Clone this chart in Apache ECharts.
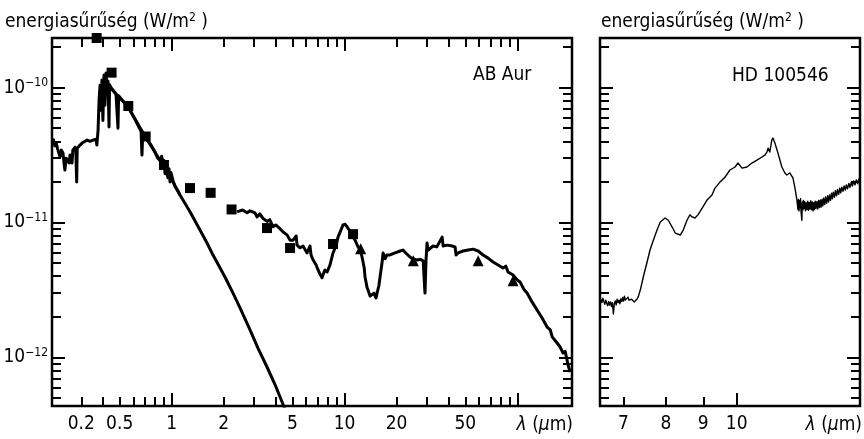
<!DOCTYPE html>
<html>
<head>
<meta charset="utf-8">
<script src="https://cdn.jsdelivr.net/npm/echarts@6/dist/echarts.min.js"></script>
<style>
  html, body { margin: 0; padding: 0; background: #fff; }
  #chart { width: 864px; height: 439px; }
</style>
</head>
<body>
<div id="chart"></div>
<script>
// ---- AB Aur: spectral energy distribution (wavelength in µm, flux in W/m²) ----
const abAurUvOptical = [
  [0.203, 3.95e-11], [0.207, 4.10e-11], [0.211, 3.70e-11], [0.215, 3.85e-11], [0.219, 3.50e-11],
  [0.226, 3.06e-11], [0.230, 3.44e-11], [0.235, 3.27e-11], [0.238, 2.80e-11], [0.241, 2.45e-11],
  [0.245, 3.00e-11], [0.251, 3.06e-11], [0.255, 2.76e-11], [0.258, 3.16e-11], [0.265, 2.76e-11],
  [0.268, 3.44e-11], [0.276, 3.62e-11], [0.279, 3.35e-11], [0.282, 2.00e-11], [0.284, 3.55e-11],
  [0.295, 3.75e-11], [0.303, 3.88e-11], [0.311, 3.95e-11], [0.324, 4.08e-11], [0.337, 4.00e-11],
  [0.350, 4.08e-11], [0.364, 4.15e-11], [0.369, 3.75e-11], [0.375, 4.84e-11], [0.380, 8.1e-11],
  [0.385, 1.04e-10], [0.390, 6.8e-11], [0.395, 1.14e-10], [0.400, 5.7e-11], [0.406, 1.24e-10],
  [0.411, 7.4e-11], [0.417, 1.28e-10], [0.422, 9.6e-11], [0.428, 1.12e-10], [0.434, 5.1e-11],
  [0.437, 1.05e-10], [0.445, 1.00e-10], [0.460, 9.5e-11], [0.476, 9.0e-11], [0.486, 8.8e-11],
  [0.489, 5.0e-11], [0.493, 8.7e-11], [0.516, 8.1e-11], [0.535, 7.7e-11], [0.558, 7.2e-11],
  [0.585, 6.5e-11], [0.613, 5.85e-11], [0.640, 5.2e-11], [0.665, 4.75e-11], [0.673, 3.16e-11],
  [0.680, 4.6e-11], [0.700, 4.37e-11], [0.750, 3.85e-11], [0.800, 3.33e-11], [0.830, 3.0e-11],
  [0.855, 2.9e-11], [0.875, 3.1e-11], [0.890, 2.55e-11], [0.900, 2.9e-11], [0.915, 2.3e-11],
  [0.930, 2.7e-11], [0.950, 2.15e-11], [0.965, 2.5e-11], [0.978, 2.0e-11], [0.990, 2.35e-11],
  [1.017, 2.05e-11], [1.045, 1.85e-11], [1.070, 1.9e-11], [1.090, 1.7e-11], [1.117, 1.6e-11]
];

const abAurPhotosphere = [
  [0.406, 1.22e-10], [0.422, 1.10e-10], [0.445, 9.9e-11], [0.476, 8.95e-11], [0.516, 8.08e-11],
  [0.558, 7.2e-11], [0.613, 5.85e-11], [0.700, 4.37e-11], [0.800, 3.33e-11], [0.915, 2.49e-11],
  [1.017, 2.0e-11], [1.117, 1.60e-11], [1.276, 1.20e-11], [1.458, 8.8e-12], [1.601, 7.05e-12],
  [1.734, 5.74e-12], [2.034, 3.95e-12], [2.263, 3.0e-12], [2.485, 2.33e-12], [2.839, 1.60e-12],
  [3.16, 1.17e-12], [3.561, 8.5e-13], [3.96, 6.3e-13], [4.45, 4.35e-13], [4.84, 3.5e-13]
];

const abAurInfrared = [
  [2.39, 1.20e-11], [2.57, 1.24e-11], [2.73, 1.18e-11], [2.84, 1.22e-11], [3.03, 1.18e-11],
  [3.12, 1.10e-11], [3.24, 1.16e-11], [3.38, 1.07e-11], [3.56, 1.02e-11], [3.69, 1.05e-11],
  [3.86, 9.3e-12], [4.00, 9.6e-12], [4.23, 9.0e-12], [4.41, 8.5e-12], [4.65, 8.1e-12],
  [4.84, 7.4e-12], [5.04, 7.4e-12], [5.25, 7.95e-12], [5.31, 6.8e-12], [5.53, 6.5e-12],
  [5.75, 6.7e-12], [6.07, 5.95e-12], [6.31, 6.7e-12], [6.40, 5.75e-12], [6.57, 5.3e-12],
  [6.85, 4.85e-12], [7.03, 4.45e-12], [7.21, 4.15e-12], [7.41, 3.9e-12], [7.61, 4.3e-12],
  [7.71, 4.45e-12], [7.93, 4.3e-12], [8.24, 4.85e-12], [8.58, 5.95e-12], [8.95, 6.8e-12],
  [9.17, 7.8e-12], [9.60, 9.0e-12], [9.80, 9.6e-12], [10.08, 9.7e-12], [10.34, 9.3e-12],
  [10.77, 8.6e-12], [11.05, 8.4e-12], [11.5, 7.4e-12], [11.97, 6.6e-12], [12.3, 6.35e-12],
  [12.63, 5.55e-12], [13.0, 4.6e-12], [13.14, 3.95e-12], [13.5, 3.3e-12], [13.68, 3.16e-12],
  [14.05, 2.85e-12], [14.42, 2.76e-12], [14.8, 3.0e-12], [15.2, 2.76e-12], [15.42, 3.0e-12],
  [15.8, 3.4e-12], [16.05, 3.95e-12], [16.5, 5.1e-12], [16.71, 5.95e-12], [17.2, 5.4e-12],
  [17.6, 5.75e-12], [18.34, 5.75e-12], [19.6, 5.95e-12], [21.0, 6.15e-12], [21.8, 6.25e-12],
  [22.6, 5.95e-12], [23.9, 5.55e-12], [25.0, 5.35e-12], [26.3, 5.27e-12], [27.4, 5.35e-12],
  [28.5, 5.2e-12], [29.2, 3.0e-12], [29.6, 5.2e-12], [30.0, 7.05e-12], [30.5, 6.25e-12],
  [32.5, 6.7e-12], [34.2, 6.6e-12], [36.7, 7.8e-12], [37.2, 6.7e-12], [39.2, 6.8e-12],
  [41.9, 6.7e-12], [43.6, 6.6e-12], [44.2, 5.75e-12], [45.4, 5.95e-12], [48.5, 6.15e-12],
  [51.9, 6.25e-12], [55.4, 6.35e-12], [59.3, 6.15e-12], [63.3, 5.75e-12], [67.7, 5.45e-12],
  [72.3, 5.1e-12], [77.3, 4.85e-12], [82.6, 4.6e-12], [85.8, 4.75e-12], [88.3, 4.3e-12],
  [94.4, 4.08e-12], [99.8, 3.75e-12], [103.7, 3.62e-12], [109, 3.2e-12], [113.8, 3.0e-12],
  [121.8, 2.57e-12], [130, 2.25e-12], [139, 1.96e-12], [148.6, 1.68e-12], [155, 1.60e-12],
  [159, 1.42e-12], [169.7, 1.28e-12], [176.5, 1.2e-12], [183.8, 1.08e-12], [189, 1.11e-12],
  [196.5, 8.8e-13], [201.8, 7.8e-13]
];

const abAurPhotometrySquares = [
  [0.368, 2.33e-10], [0.449, 1.29e-10], [0.561, 7.3e-11], [0.707, 4.34e-11], [0.902, 2.67e-11],
  [1.276, 1.80e-11], [1.68, 1.66e-11], [2.22, 1.25e-11], [3.56, 9.1e-12], [4.84, 6.47e-12],
  [8.58, 6.93e-12], [11.2, 8.2e-12]
];

const abAurPhotometryTriangles = [
  [12.4, 6.4e-12], [25.0, 5.2e-12], [59.3, 5.2e-12], [94.4, 3.7e-12]
];

// ---- HD 100546: mid-infrared spectrum ----
const hd100546Spectrum = [
  [6.52, 2.70e-12], [6.54, 2.55e-12], [6.56, 2.75e-12], [6.58, 2.60e-12], [6.60, 2.48e-12],
  [6.62, 2.66e-12], [6.64, 2.52e-12], [6.66, 2.42e-12], [6.68, 2.60e-12], [6.70, 2.45e-12],
  [6.72, 2.58e-12], [6.74, 2.38e-12], [6.76, 2.55e-12], [6.78, 2.10e-12], [6.80, 2.50e-12],
  [6.82, 2.62e-12], [6.84, 2.45e-12], [6.86, 2.70e-12], [6.88, 2.55e-12], [6.90, 2.66e-12],
  [6.92, 2.50e-12], [6.94, 2.72e-12], [6.96, 2.60e-12], [6.98, 2.78e-12], [7.00, 2.62e-12],
  [7.02, 2.85e-12], [7.04, 2.66e-12], [7.06, 2.75e-12], [7.08, 2.62e-12], [7.10, 2.80e-12],
  [7.12, 2.66e-12], [7.14, 2.74e-12], [7.16, 2.60e-12], [7.18, 2.70e-12], [7.20, 2.64e-12],
  [7.22, 2.72e-12], [7.24, 2.58e-12], [7.26, 2.66e-12], [7.30, 2.70e-12], [7.33, 2.80e-12],
  [7.38, 3.16e-12], [7.45, 3.95e-12], [7.54, 5.1e-12], [7.61, 6.26e-12], [7.69, 7.4e-12],
  [7.78, 8.8e-12], [7.86, 1.01e-11], [7.98, 1.08e-11], [8.06, 1.04e-11], [8.16, 9.26e-12],
  [8.24, 8.36e-12], [8.37, 8.08e-12], [8.45, 8.8e-12], [8.55, 1.04e-11], [8.63, 1.14e-11],
  [8.69, 1.10e-11], [8.77, 1.08e-11], [8.85, 1.14e-11], [8.97, 1.28e-11], [9.11, 1.47e-11],
  [9.25, 1.60e-11], [9.34, 1.80e-11], [9.49, 2.0e-11], [9.64, 2.17e-11], [9.79, 2.45e-11],
  [9.95, 2.58e-11], [10.04, 2.76e-11], [10.17, 2.53e-11], [10.33, 2.58e-11], [10.49, 2.76e-11],
  [10.66, 2.90e-11], [10.83, 3.06e-11], [10.93, 3.16e-11], [11.00, 3.33e-11], [11.04, 3.56e-11],
  [11.10, 3.33e-11], [11.17, 4.08e-11], [11.21, 4.23e-11], [11.28, 3.88e-11], [11.39, 3.27e-11],
  [11.53, 2.58e-11], [11.64, 2.33e-11], [11.71, 2.25e-11], [11.82, 2.33e-11], [11.94, 2.14e-11],
  [12.01, 1.83e-11], [12.09, 1.47e-11],
  [12.11, 1.52e-11], [12.13, 1.25e-11], [12.15, 1.48e-11], [12.17, 1.22e-11], [12.19, 1.45e-11],
  [12.21, 1.28e-11], [12.23, 1.50e-11], [12.25, 1.20e-11], [12.28, 1.04e-11], [12.30, 1.42e-11],
  [12.32, 1.24e-11], [12.34, 1.46e-11], [12.36, 1.27e-11], [12.39, 1.43e-11], [12.42, 1.22e-11],
  [12.45, 1.40e-11], [12.48, 1.25e-11], [12.51, 1.44e-11], [12.54, 1.23e-11], [12.57, 1.41e-11],
  [12.60, 1.26e-11], [12.63, 1.45e-11], [12.66, 1.24e-11], [12.69, 1.42e-11], [12.72, 1.22e-11],
  [12.75, 1.40e-11], [12.78, 1.25e-11], [12.81, 1.44e-11], [12.84, 1.27e-11], [12.88, 1.43e-11],
  [12.91, 1.26e-11], [12.95, 1.46e-11], [12.98, 1.29e-11], [13.02, 1.47e-11], [13.05, 1.30e-11],
  [13.09, 1.49e-11], [13.12, 1.33e-11], [13.16, 1.52e-11], [13.20, 1.36e-11], [13.24, 1.55e-11],
  [13.28, 1.39e-11], [13.32, 1.58e-11], [13.36, 1.42e-11], [13.40, 1.60e-11], [13.44, 1.46e-11],
  [13.48, 1.65e-11], [13.52, 1.50e-11], [13.56, 1.68e-11], [13.61, 1.54e-11], [13.65, 1.72e-11],
  [13.70, 1.58e-11], [13.74, 1.76e-11], [13.79, 1.62e-11], [13.84, 1.80e-11], [13.88, 1.66e-11],
  [13.93, 1.83e-11], [13.98, 1.70e-11], [14.03, 1.87e-11], [14.08, 1.74e-11], [14.13, 1.90e-11],
  [14.18, 1.78e-11], [14.24, 1.95e-11], [14.29, 1.82e-11], [14.35, 1.99e-11], [14.40, 1.86e-11],
  [14.46, 2.03e-11], [14.52, 1.90e-11], [14.58, 2.07e-11], [14.64, 1.94e-11], [14.70, 2.10e-11],
  [14.75, 1.98e-11]
];

// ---- axis ranges ----
const leftLambdaRange = [0.203, 207];
const rightLambdaRange = [6.5, 14.75];
const fluxRange = [4.37e-13, 2.33e-10];

// ---- tick positions and tick labels ----
const leftMajorLambdaTicks = [1, 10, 100];
const leftMinorLambdaTicks = [0.3, 0.4, 0.5, 0.6, 0.7, 0.8, 0.9, 2, 3, 4, 5, 6, 7, 8, 9,
                              20, 30, 40, 50, 60, 70, 80, 90];
const leftLambdaLabelAt = [0.3, 0.5, 1, 2, 5, 10, 20, 50];
const leftLambdaLabelText = ['0.2', '0.5', '1', '2', '5', '10', '20', '50'];

const rightMajorLambdaTicks = [10];
const rightMinorLambdaTicks = [7, 8, 9];
const rightLambdaLabelAt = [7, 8, 9, 10];
const rightLambdaLabelText = ['7', '8', '9', '10'];

const fluxMajorTicks = [1e-12, 1e-11, 1e-10];
const fluxMinorTicks = [5e-13, 6e-13, 7e-13, 8e-13, 9e-13,
                        2e-12, 3e-12, 4e-12, 5e-12, 6e-12, 7e-12, 8e-12, 9e-12,
                        2e-11, 3e-11, 4e-11, 5e-11, 6e-11, 7e-11, 8e-11, 9e-11, 2e-10];
const fluxLabelAt = [1e-12, 1e-11, 1e-10];
const fluxLabelExponent = ['−12', '−11', '−10'];

// ---- texts ----
const yTitle = 'energiasűrűség (W/m{s|2} )';
const leftStarName = 'AB Aur';
const rightStarName = 'HD 100546';
const xTitle = '{i|λ} ({i|µ}m)';

// ---- styling ----
const FONT = '"DejaVu Sans Condensed", "DejaVu Sans", sans-serif';
const INK = '#000';
const MINOR_LEN = 9;
const MAJOR_LEN = 13;

const log10 = Math.log10;

function lookupLabel(value, at, text) {
  for (let i = 0; i < at.length; i++) {
    if (Math.abs(log10(at[i]) - value) < 1e-6) return text[i];
  }
  return '';
}

// Invisible logarithmic axes that carry the data.
function dataAxis(gridIndex, range) {
  return { type: 'log', logBase: 10, gridIndex: gridIndex, min: range[0], max: range[1], show: false };
}

// Tick-only axes drawn in log10 space so ticks can sit at 2,3,…,9 × 10ⁿ.
function tickAxis(gridIndex, position, range, ticks, len, label) {
  return {
    type: 'value', gridIndex: gridIndex, position: position,
    min: log10(range[0]), max: log10(range[1]),
    silent: true,
    axisLine: { show: false, onZero: false },
    splitLine: { show: false },
    axisTick: {
      show: true, inside: true, length: len,
      customValues: ticks.map(log10),
      lineStyle: { color: INK, width: 2 }
    },
    axisLabel: label || { show: false }
  };
}

const xLabelStyle = { show: true, color: INK, fontFamily: FONT, fontSize: 19, margin: 9 };

const xAxes = [
  dataAxis(0, leftLambdaRange),
  tickAxis(0, 'bottom', leftLambdaRange, leftMinorLambdaTicks, MINOR_LEN, Object.assign({}, xLabelStyle, {
    customValues: leftLambdaLabelAt.map(log10),
    formatter: v => lookupLabel(v, leftLambdaLabelAt, leftLambdaLabelText)
  })),
  tickAxis(0, 'bottom', leftLambdaRange, leftMajorLambdaTicks, MAJOR_LEN),
  tickAxis(0, 'top', leftLambdaRange, leftMinorLambdaTicks, MINOR_LEN),
  tickAxis(0, 'top', leftLambdaRange, leftMajorLambdaTicks, MAJOR_LEN),
  dataAxis(1, rightLambdaRange),
  tickAxis(1, 'bottom', rightLambdaRange, rightMinorLambdaTicks, MINOR_LEN, Object.assign({}, xLabelStyle, {
    customValues: rightLambdaLabelAt.map(log10),
    formatter: v => lookupLabel(v, rightLambdaLabelAt, rightLambdaLabelText)
  })),
  tickAxis(1, 'bottom', rightLambdaRange, rightMajorLambdaTicks, MAJOR_LEN)
];

const yLabelStyle = {
  show: true, color: INK, fontFamily: FONT, fontSize: 19, margin: 4,
  customValues: fluxLabelAt.map(log10),
  formatter: v => '10{s|' + lookupLabel(v, fluxLabelAt, fluxLabelExponent) + '}',
  rich: { s: { fontSize: 12, fontFamily: FONT, color: INK, padding: [0, 0, 9, 0] } }
};

const yAxes = [
  dataAxis(0, fluxRange),
  tickAxis(0, 'left', fluxRange, fluxMinorTicks, MINOR_LEN),
  tickAxis(0, 'left', fluxRange, fluxMajorTicks, MAJOR_LEN, yLabelStyle),
  tickAxis(0, 'right', fluxRange, fluxMinorTicks, MINOR_LEN),
  tickAxis(0, 'right', fluxRange, fluxMajorTicks, MAJOR_LEN),
  dataAxis(1, fluxRange),
  tickAxis(1, 'left', fluxRange, fluxMinorTicks, MINOR_LEN),
  tickAxis(1, 'left', fluxRange, fluxMajorTicks, MAJOR_LEN),
  tickAxis(1, 'right', fluxRange, fluxMinorTicks, MINOR_LEN),
  tickAxis(1, 'right', fluxRange, fluxMajorTicks, MAJOR_LEN)
];

function spectrum(name, data, xi, yi, width) {
  return {
    name: name, type: 'line', xAxisIndex: xi, yAxisIndex: yi, data: data,
    showSymbol: false, symbol: 'none', clip: true, silent: true,
    lineStyle: { color: INK, width: width, join: 'round' }
  };
}

function markers(name, data, symbol, size) {
  return {
    name: name, type: 'scatter', xAxisIndex: 0, yAxisIndex: 0, data: data,
    symbol: symbol, symbolSize: size, clip: false, silent: true, z: 5,
    itemStyle: { color: INK, opacity: 1 }
  };
}

function label(text, x, y, align, extra) {
  return {
    type: 'text', x: x, y: y, silent: true, z: 10,
    style: Object.assign({
      text: text, fill: INK, fontFamily: FONT, fontSize: 19,
      align: align, verticalAlign: 'middle'
    }, extra || {})
  };
}

const supRich = { s: { fontSize: 12, fontFamily: FONT, fill: INK, padding: [0, 0, 9, 0] } };
const italicRich = { i: { fontSize: 19, fontFamily: FONT, fill: INK, fontStyle: 'italic' } };

const chart = echarts.init(document.getElementById('chart'), null, { renderer: 'canvas' });
chart.setOption({
  animation: false,
  backgroundColor: '#fff',
  grid: [
    { left: 52, top: 38, width: 520, height: 368, show: true, borderColor: INK, borderWidth: 2.5,
      backgroundColor: 'transparent', containLabel: false, outerBoundsMode: 'none' },
    { left: 600, top: 38, width: 260, height: 368, show: true, borderColor: INK, borderWidth: 2.5,
      backgroundColor: 'transparent', containLabel: false, outerBoundsMode: 'none' }
  ],
  xAxis: xAxes,
  yAxis: yAxes,
  series: [
    spectrum('AB Aur UV–optical', abAurUvOptical, 0, 0, 3),
    spectrum('AB Aur photosphere', abAurPhotosphere, 0, 0, 3),
    spectrum('AB Aur infrared', abAurInfrared, 0, 0, 3),
    markers('AB Aur photometry', abAurPhotometrySquares, 'rect', 10),
    markers('AB Aur IRAS', abAurPhotometryTriangles, 'triangle', 11),
    spectrum('HD 100546', hd100546Spectrum, 5, 5, 1.4)
  ],
  graphic: [
    label(yTitle, 5, 22, 'left', { rich: supRich }),
    label(yTitle, 601, 22, 'left', { rich: supRich }),
    label(leftStarName, 473, 75, 'left'),
    label(rightStarName, 732, 76, 'left'),
    label(xTitle, 573, 425, 'right', { rich: italicRich }),
    label(xTitle, 862, 425, 'right', { rich: italicRich })
  ]
});
</script>
</body>
</html>
